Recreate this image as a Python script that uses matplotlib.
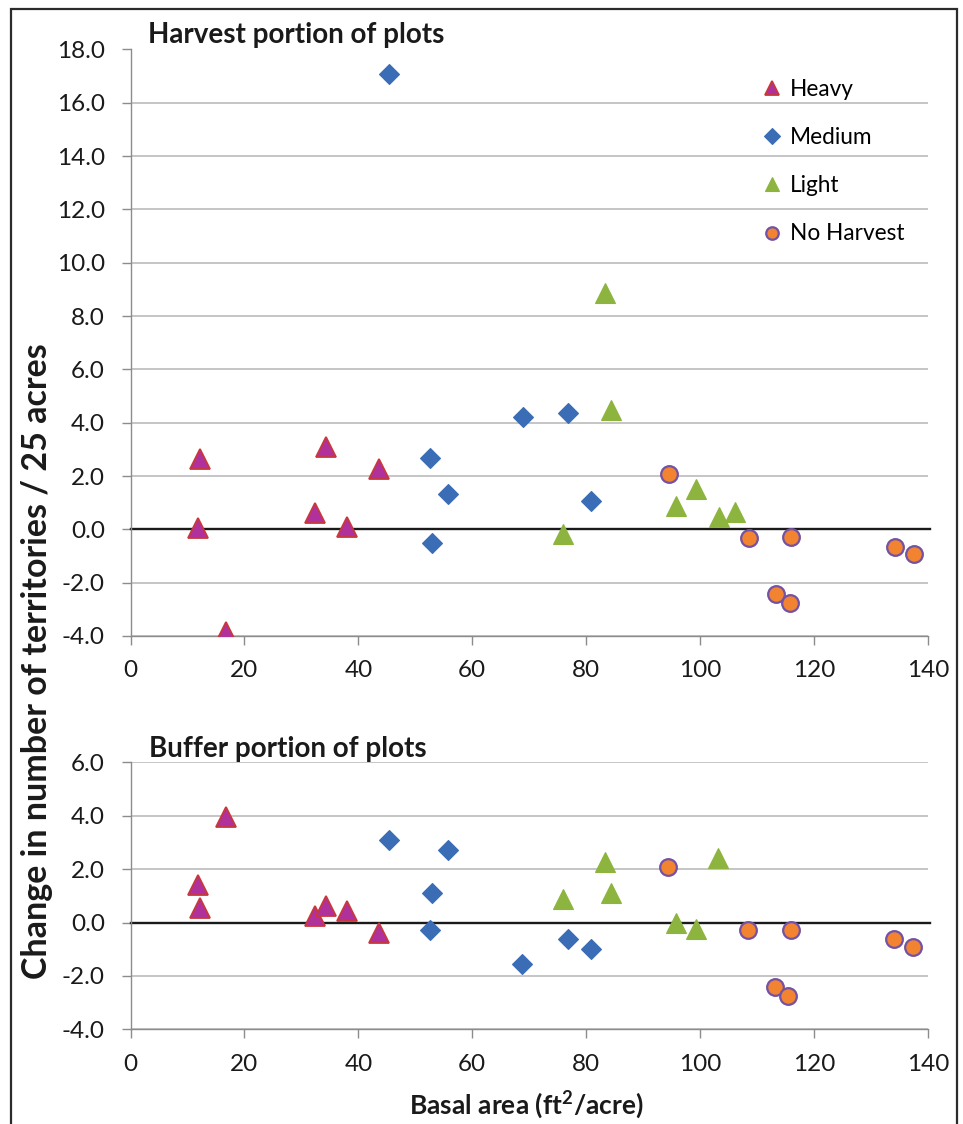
import matplotlib
matplotlib.use("Agg")
import matplotlib.pyplot as plt
from matplotlib.patches import Rectangle

plt.rcParams['font.family'] = ['Lato', 'DejaVu Sans']

# Basal area (ft2/acre) and change in territories per 25 acres, by harvest class
heavy_x_harvest = [11.8, 12.2, 16.7, 32.4, 34.3, 38.0, 43.6]
heavy_y_harvest = [0.05, 2.63, -3.84, 0.60, 3.10, 0.10, 2.25]
medium_x_harvest = [45.4, 52.6, 53.0, 55.8, 68.9, 76.8, 80.8]
medium_y_harvest = [17.07, 2.69, -0.50, 1.33, 4.23, 4.35, 1.08]
light_x_harvest = [76.0, 83.3, 84.4, 95.8, 99.3, 103.3, 106.1]
light_y_harvest = [-0.17, 8.87, 4.48, 0.88, 1.50, 0.48, 0.66]
none_x_harvest = [94.5, 108.5, 113.3, 115.7, 116.0, 134.2, 137.5]
none_y_harvest = [2.08, -0.31, -2.42, -2.75, -0.27, -0.65, -0.92]

heavy_x_buffer = [11.85, 12.25, 16.7, 32.4, 34.3, 38.0, 43.6]
heavy_y_buffer = [1.40, 0.55, 3.94, 0.24, 0.62, 0.43, -0.38]
medium_x_buffer = [45.4, 52.5, 52.9, 55.8, 68.8, 76.8, 80.8]
medium_y_buffer = [3.08, -0.28, 1.09, 2.70, -1.57, -0.60, -1.00]
light_x_buffer = [76.0, 83.3, 84.3, 95.7, 99.2, 103.2]
light_y_buffer = [0.87, 2.28, 1.09, 0.00, -0.26, 2.40]
none_x_buffer = [94.4, 108.4, 113.2, 115.5, 115.9, 134.1, 137.3]
none_y_buffer = [2.09, -0.29, -2.40, -2.74, -0.29, -0.63, -0.92]

series_labels = ["Heavy", "Medium", "Light", "No Harvest"]
panel_titles = ["Harvest portion of plots", "Buffer portion of plots"]
x_ticks = [0, 20, 40, 60, 80, 100, 120, 140]
harvest_yticks = [-4, -2, 0, 2, 4, 6, 8, 10, 12, 14, 16, 18]
buffer_yticks = [-4, -2, 0, 2, 4, 6]

styles = {
    "Heavy": dict(marker="^", ms=14, mfc="#B0309C", mec="#C8383A", mew=1.3),
    "Medium": dict(marker="D", ms=10.5, mfc="#3A6DB5", mec="#3A6DB5", mew=0.8),
    "Light": dict(marker="^", ms=14, mfc="#8CB43E", mec="#8CB43E", mew=0.8),
    "No Harvest": dict(marker="o", ms=12, mfc="#F28330", mec="#7352A6", mew=1.6),
}

W, H = 963, 1124
fig = plt.figure(figsize=(W / 100, H / 100), dpi=100)

# outer frame
fig.patches.append(Rectangle((11 / W, -0.01), (957 - 11) / W, 1 - 9 / H + 0.01,
                             transform=fig.transFigure, fill=False,
                             edgecolor="#2b2b2b", linewidth=1.6))

def fx(px):
    return px / W

def fy(py):
    return 1 - py / H

left, right = 130.5, 928
ax1 = fig.add_axes([fx(left), fy(636), fx(right - left), (636 - 49.5) / H])
ax2 = fig.add_axes([fx(left), fy(1029.3), fx(right - left), (1029.3 - 762.3) / H])

panels = [
    (ax1, [(heavy_x_harvest, heavy_y_harvest), (medium_x_harvest, medium_y_harvest),
           (light_x_harvest, light_y_harvest), (none_x_harvest, none_y_harvest)],
     harvest_yticks),
    (ax2, [(heavy_x_buffer, heavy_y_buffer), (medium_x_buffer, medium_y_buffer),
           (light_x_buffer, light_y_buffer), (none_x_buffer, none_y_buffer)],
     buffer_yticks),
]

handles = []
for i, (ax, data, yt) in enumerate(panels):
    ax.set_xlim(0, 140)
    ax.set_ylim(yt[0], yt[-1])
    ax.set_xticks(x_ticks)
    ax.set_yticks(yt)
    ax.set_yticklabels([f"{v:.1f}" for v in yt])
    ax.grid(axis="y", color="#c0c0c0", linewidth=1.3, zorder=0)
    ax.set_axisbelow(True)
    for s in ["top", "right"]:
        ax.spines[s].set_visible(False)
    for s in ["left", "bottom"]:
        ax.spines[s].set_color("#8c8c8c")
        ax.spines[s].set_linewidth(1.0)
    ax.tick_params(axis="both", direction="out", length=6.5, width=1.0,
                   color="#8c8c8c", labelsize=17.5, labelcolor="#1a1a1a")
    ax.tick_params(axis="y", pad=12)
    ax.tick_params(axis="x", pad=11)
    ax.axhline(0, xmin=0, xmax=1.003, color="#1a1a1a", linewidth=1.7, zorder=2,
               clip_on=False)
    for lab, (xs, ys) in zip(series_labels, data):
        ln, = ax.plot(xs, ys, linestyle="none", zorder=3, label=lab, **styles[lab])
        if i == 0:
            handles.append(ln)

fig.text(fx(148), fy(43), panel_titles[0], fontsize=20, fontweight="bold",
         color="#1a1a1a", ha="left", va="baseline")
fig.text(fx(149), fy(757), panel_titles[1], fontsize=20, fontweight="bold",
         color="#1a1a1a", ha="left", va="baseline")

ax1.legend(handles=handles, loc="upper left",
           bbox_to_anchor=(fx(763), fy(79)), bbox_transform=fig.transFigure,
           frameon=False, fontsize=16.3, markerscale=0.75, labelspacing=1.2,
           handlelength=0.8, handletextpad=0.4, borderpad=0, borderaxespad=0)

fig.text(fx(37), fy(661), "Change in number of territories / 25 acres",
         rotation=90, fontsize=24.5, fontweight="bold", color="#1a1a1a",
         ha="center", va="center")
fig.text(fx(526), fy(1105), "Basal area (ft$^{\\mathregular{2}}$/acre)",
         fontsize=19, fontweight="bold", color="#1a1a1a",
         ha="center", va="center")

fig.savefig("out.png", dpi=100)
